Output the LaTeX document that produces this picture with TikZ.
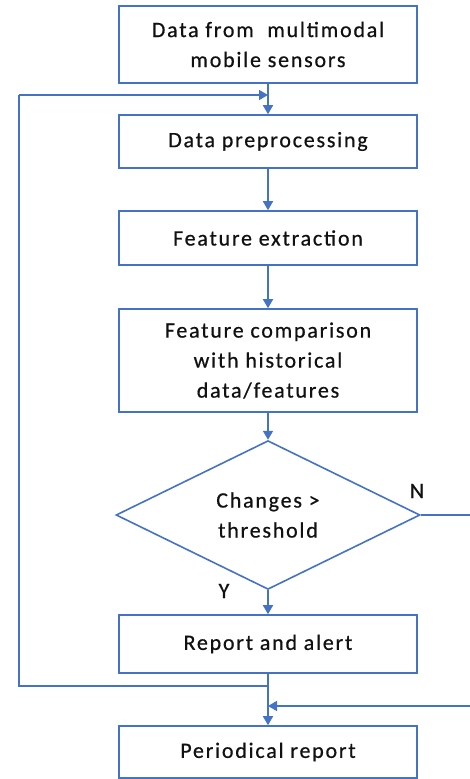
\documentclass[tikz,border=0pt]{standalone}
\usepackage{fontspec}
\setmainfont[LetterSpace=8,FakeBold=0.6]{Carlito}
\usetikzlibrary{shapes.geometric,arrows.meta}
\definecolor{flowblue}{HTML}{4472C4}
\definecolor{flowtext}{HTML}{111111}
\begin{document}
\begin{tikzpicture}[x=1pt,y=-1pt,
  stepbox/.style={draw=flowblue,line width=1.6pt,rectangle,minimum width=298pt,
    inner sep=0pt,align=center,text=flowtext,font=\fontsize{22}{30}\selectfont},
  decision/.style={draw=flowblue,line width=1.6pt,diamond,minimum width=304pt,
    minimum height=147pt,inner sep=0pt,align=center,text=flowtext,
    font=\fontsize{22}{30}\selectfont},
  flow/.style={draw=flowblue,line width=1.6pt,-{Triangle[width=10pt,length=9pt]}},
  link/.style={draw=flowblue,line width=1.6pt},
  branch/.style={text=flowtext,font=\fontsize{22}{24}\selectfont}]
\useasboundingbox (0,0) rectangle (469,779);

% process steps
\node[stepbox,minimum height=77pt]  (src)  at (268,44.5)  {Data from\ \ multimodal\\mobile sensors};
\node[stepbox,minimum height=53pt]  (prep) at (268,141.5) {Data preprocessing};
\node[stepbox,minimum height=54pt]  (feat) at (268,238)   {Feature extraction};
\node[stepbox,minimum height=103pt] (cmp)  at (268,360.5) {Feature comparison\\with historical\\data/features};
\node[decision] (dec) at (268,515) {Changes >\\threshold};
\node[stepbox,minimum height=58pt]  (rep)  at (268,644)   {Report and alert};
\node[stepbox,minimum height=52pt]  (per)  at (268,752)   {Periodical report};

% branch labels
\node[branch] (ylab) at (224,591) {Y};
\node[branch] (nlab) at (417,491) {N};

% helper points for the feedback loops
\coordinate (join)  at (268,95);
\coordinate (split) at (268,686);
\coordinate (lbot)  at (19,686);
\coordinate (ltop)  at (19,95);
\coordinate (rtop)  at (482,515);
\coordinate (rbot)  at (482,706);
\coordinate (merge) at (268,706);

% main flow
\draw[flow] (src.south) -- (prep.north);
\draw[flow] (prep.south) -- (feat.north);
\draw[flow] (feat.south) -- (cmp.north);
\draw[flow] (cmp.south) -- (dec.north);
\draw[flow] (dec.south) -- (rep.north);
\draw[flow] (rep.south) -- (per.north);

% loop back after reporting
\draw[link] (split) -- (lbot) -- (ltop);
\draw[flow] (ltop) -- (join);

% no-change branch to periodical report
\draw[link] (dec.east) -- (rtop) -- (rbot);
\draw[flow] (rbot) -- (merge);
\end{tikzpicture}
\end{document}
